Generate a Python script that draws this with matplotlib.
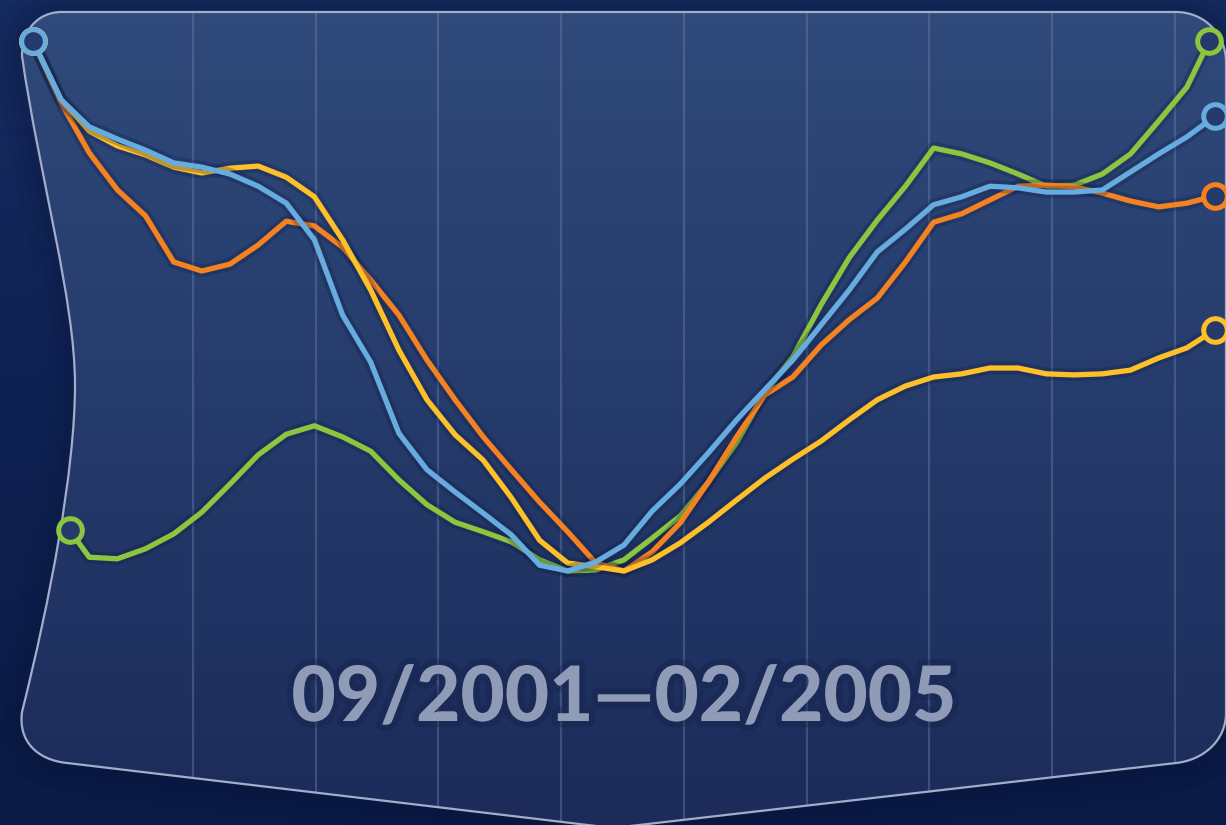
import numpy as np
import matplotlib.pyplot as plt
import matplotlib.patheffects as pe
from matplotlib.path import Path
from matplotlib.patches import PathPatch
from matplotlib.colors import LinearSegmentedColormap

W, H = 1226, 825

# months after 09/2001 (0 = Sep 2001, 42 = Feb 2005)
months = list(range(43))

# every series rebased to its own range: 0 = low of the period, 100 = high
blue = [100.0, 88.9, 83.8, 81.5, 79.4, 77.0, 76.2, 74.9, 72.6, 69.4,
        62.5, 48.3, 39.4, 26.0, 19.1, 14.9, 10.9, 6.8, 1.1, 0.0,
        1.7, 4.9, 11.3, 16.4, 22.3, 28.5, 34.2, 39.8, 46.4, 53.0,
        60.2, 64.5, 69.1, 70.6, 72.6, 72.3, 71.5, 71.5, 71.9, 75.3,
        78.7, 81.9, 85.8]
orange = [100.0, 88.3, 78.9, 71.9, 67.0, 58.3, 56.6, 57.9, 61.5, 66.0,
          65.1, 61.1, 54.9, 48.3, 39.8, 32.3, 25.3, 19.1, 13.0, 7.4,
          1.5, 0.0, 3.6, 9.1, 16.8, 25.3, 33.2, 36.6, 42.6, 47.4,
          51.5, 58.3, 65.8, 67.4, 70.0, 72.6, 72.8, 72.5, 71.3, 69.8,
          68.7, 69.4, 70.8]
yellow = [100.0, 88.9, 83.0, 80.2, 78.5, 76.2, 75.1, 76.0, 76.4, 74.3,
          70.6, 62.5, 53.0, 41.7, 32.3, 25.7, 20.9, 13.8, 5.8, 1.5,
          0.8, 0.0, 2.1, 5.3, 9.2, 13.4, 17.5, 21.1, 24.5, 28.5,
          32.3, 34.9, 36.6, 37.2, 38.3, 38.3, 37.2, 37.0, 37.2, 37.9,
          40.2, 42.1, 45.5]
green_months = [1.3] + list(range(2, 42)) + [41.8]
green = [7.7, 2.6, 2.3, 4.2, 7.0, 11.1, 16.4, 21.9, 25.8, 27.4,
         25.3, 22.6, 17.2, 12.5, 9.2, 7.4, 5.5, 2.1, 0.0, 0.2,
         2.1, 6.2, 10.4, 16.8, 24.2, 33.6, 40.4, 50.2, 59.1, 66.2,
         72.6, 79.8, 78.7, 77.0, 74.9, 72.6, 72.8, 74.9, 78.7, 84.9,
         91.3, 100.0]

period_label = "09/2001\u201402/2005"

COLORS = {"green": "#8cc63e", "orange": "#f58220", "yellow": "#fdc029", "blue": "#66acdf"}

fig = plt.figure(figsize=(W / 100, H / 100), dpi=100)

# background layer in pixel units
bg = fig.add_axes([0, 0, 1, 1])
bg.set_xlim(0, W)
bg.set_ylim(H, 0)
bg.axis("off")

outer = LinearSegmentedColormap.from_list("outer", ["#152b60", "#0f2152", "#0b1a45"])
bg.imshow(np.linspace(0, 1, 256).reshape(-1, 1), cmap=outer, aspect="auto",
          extent=[0, W, H, 0], zorder=0)

verts = [(62, 12),
         (38, 12), (22, 30), (22, 56),
         (40, 180), (75, 300), (75, 385),
         (75, 470), (50, 600), (22, 712),
         (18, 742), (38, 760), (67, 763),
         (613, 828),
         (1176, 763),
         (1204, 760), (1226, 740), (1226, 713),
         (1226, 62),
         (1226, 34), (1204, 12), (1176, 12),
         (62, 12),
         (62, 12)]
codes = ([Path.MOVETO] + [Path.CURVE4] * 12 + [Path.LINETO, Path.LINETO]
         + [Path.CURVE4] * 3 + [Path.LINETO] + [Path.CURVE4] * 3
         + [Path.LINETO, Path.CLOSEPOLY])
shape = Path(verts, codes)

# soft shadow round the panel
for lw, a in [(40, 0.06), (26, 0.08), (14, 0.1)]:
    bg.add_patch(PathPatch(shape, facecolor="none", edgecolor="#081434",
                           lw=lw, alpha=a, zorder=1))

clip = PathPatch(shape, facecolor="none", edgecolor="none")
bg.add_patch(clip)
inner = LinearSegmentedColormap.from_list("inner", ["#2f4a7b", "#253b6b", "#1c2b59"])
im = bg.imshow(np.linspace(0, 1, 256).reshape(-1, 1), cmap=inner, aspect="auto",
               extent=[0, W, H, 0], zorder=2)
im.set_clip_path(clip)

for k in range(9):
    x = 193 + 122.7 * k
    gl, = bg.plot([x, x], [0, H], color="#7d8fb8", alpha=0.35, lw=1.6, zorder=3)
    gl.set_clip_path(clip)

bg.add_patch(PathPatch(shape, facecolor="none", edgecolor="#a3accb", lw=1.6, zorder=4))

bg.text(624, 721, period_label, ha="center", va="baseline", fontsize=55,
        family=["Lato", "DejaVu Sans"], fontweight="black", color="#8f9bb7", zorder=5,
        path_effects=[pe.withStroke(linewidth=9, foreground="#111d45", alpha=0.3)])

# data layer: month 0 .. 42 across, rebased value 0 .. 100 up
ax = fig.add_axes([33 / W, (H - 571) / H, 1182 / W, 530 / H])
ax.set_xlim(0, 42)
ax.set_ylim(0, 100)
ax.axis("off")
ax.patch.set_alpha(0)

shadow = [pe.withStroke(linewidth=9, foreground="#0c1740", alpha=0.25)]
series = [(green_months, green, "green"), (months, orange, "orange"),
          (months, yellow, "yellow"), (months, blue, "blue")]
for z, (xs, ys, name) in enumerate(series):
    ax.plot(xs, ys, color=COLORS[name], lw=3.8, solid_joinstyle="round",
            solid_capstyle="round", clip_on=False, zorder=10 + z, path_effects=shadow)
for z, (xs, ys, name) in enumerate(series):
    ax.plot([xs[0], xs[-1]], [ys[0], ys[-1]], ls="none", marker="o", ms=17,
            mfc="#25396a", mec=COLORS[name], mew=3.6, clip_on=False, zorder=20 + z)

fig.savefig("out.png", dpi=100)
